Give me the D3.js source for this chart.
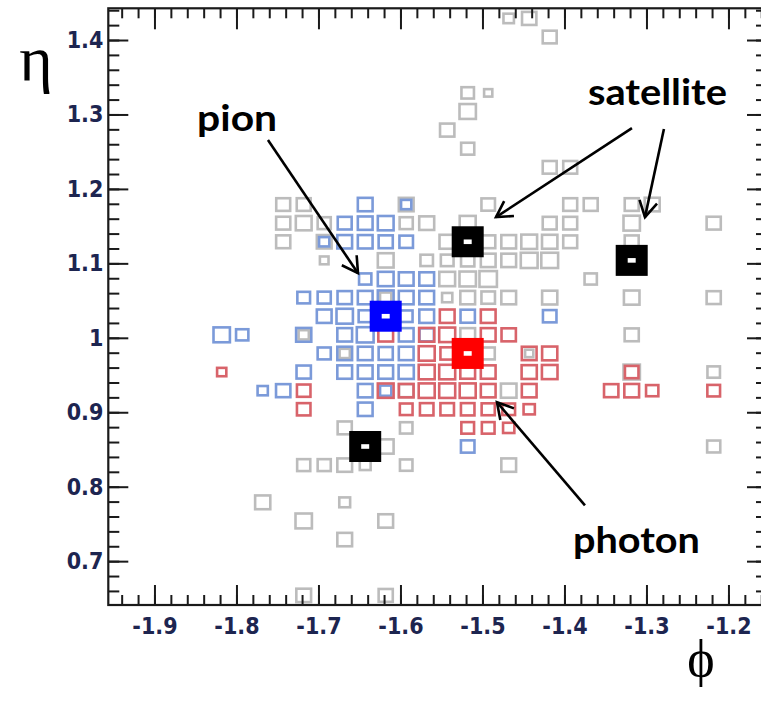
<!DOCTYPE html>
<html>
<head>
<meta charset="utf-8">
<script src="https://cdn.jsdelivr.net/npm/d3@7"></script>
<style>
  html, body { margin: 0; padding: 0; background: #fff; }
  svg { display: block; }
</style>
</head>
<body>
<svg id="chart" width="761" height="701"></svg>
<script>
// Calorimeter cells in (phi, eta): [phi, eta, relative box size]
const binPhi = 0.025;
const binEta = 0.025;

const grayCells = [
  [-1.468,1.429,.51],[-1.443,1.429,.70],[-1.418,1.404,.68],
  [-1.518,1.329,.61],[-1.493,1.329,.40],[-1.518,1.304,.80],
  [-1.543,1.279,.70],[-1.518,1.254,.64],[-1.418,1.229,.68],[-1.393,1.229,.68],
  [-1.743,1.179,.68],[-1.718,1.179,.68],[-1.593,1.179,.72],[-1.493,1.179,.66],
  [-1.393,1.179,.68],[-1.368,1.179,.68],[-1.318,1.179,.68],[-1.293,1.179,.73],
  [-1.743,1.154,.69],[-1.718,1.154,.77],[-1.693,1.154,.64],[-1.593,1.154,.64],
  [-1.568,1.154,.73],[-1.518,1.154,.78],[-1.418,1.154,.68],[-1.393,1.154,.68],
  [-1.318,1.154,.80],[-1.218,1.154,.69],
  [-1.743,1.129,.69],[-1.693,1.129,.72],[-1.543,1.129,.75],[-1.493,1.129,.69],
  [-1.468,1.129,.72],[-1.443,1.129,.77],[-1.418,1.129,.75],[-1.393,1.129,.68],
  [-1.318,1.129,.68],
  [-1.693,1.104,.42],[-1.618,1.104,.77],[-1.568,1.104,.61],[-1.543,1.104,.62],
  [-1.518,1.104,.65],[-1.493,1.104,.72],[-1.468,1.104,.72],[-1.443,1.104,.82],
  [-1.418,1.104,.82],
  [-1.543,1.079,.77],[-1.518,1.079,.80],[-1.493,1.079,.85],[-1.368,1.079,.60],
  [-1.618,1.054,.55],[-1.543,1.054,.50],[-1.518,1.054,.72],[-1.493,1.054,.66],
  [-1.468,1.054,.72],[-1.418,1.054,.74],[-1.318,1.054,.76],[-1.218,1.054,.69],
  [-1.718,1.004,.50],[-1.518,1.004,.72],[-1.318,1.004,.69],
  [-1.668,0.979,.50],[-1.493,0.979,.64],[-1.443,0.979,.40],
  [-1.318,0.954,.80],[-1.218,0.954,.61],
  [-1.593,0.929,.70],[-1.468,0.929,.76],
  [-1.668,0.879,.69],[-1.593,0.879,.61],
  [-1.618,0.854,.77],[-1.218,0.854,.64],
  [-1.718,0.829,.64],[-1.693,0.829,.64],[-1.668,0.829,.72],[-1.643,0.829,.53],
  [-1.593,0.829,.61],[-1.468,0.829,.72],
  [-1.768,0.779,.74],[-1.668,0.779,.53],
  [-1.718,0.754,.80],[-1.618,0.754,.72],
  [-1.668,0.729,.72],
  [-1.718,0.654,.72],[-1.618,0.654,.69]
];

const pionCells = [
  [-1.643,1.179,.72],[-1.593,1.179,.50],
  [-1.668,1.154,.68],[-1.643,1.154,.72],[-1.618,1.154,.77],
  [-1.693,1.129,.50],[-1.668,1.129,.72],[-1.643,1.129,.72],[-1.618,1.129,.69],[-1.593,1.129,.66],
  [-1.643,1.079,.60],[-1.618,1.079,.77],[-1.593,1.079,.72],[-1.568,1.079,.72],
  [-1.718,1.054,.62],[-1.693,1.054,.64],[-1.668,1.054,.70],[-1.643,1.054,.72],
  [-1.618,1.054,.77],[-1.593,1.054,.72],[-1.568,1.054,.72],
  [-1.693,1.029,.72],[-1.668,1.029,.80],[-1.643,1.029,.64],[-1.593,1.029,.62],
  [-1.568,1.029,.72],[-1.518,1.029,.70],[-1.418,1.029,.66],
  [-1.818,1.004,.80],[-1.793,1.004,.60],[-1.718,1.004,.74],[-1.668,1.004,.72],
  [-1.643,1.004,.82],[-1.593,1.004,.72],[-1.568,1.004,.70],
  [-1.693,0.979,.64],[-1.668,0.979,.72],[-1.643,0.979,.72],[-1.618,0.979,.69],[-1.593,0.979,.72],
  [-1.718,0.954,.70],[-1.668,0.954,.72],[-1.643,0.954,.72],[-1.618,0.954,.72],[-1.593,0.954,.74],
  [-1.768,0.929,.50],[-1.743,0.929,.70],[-1.643,0.929,.72],[-1.618,0.929,.55],
  [-1.643,0.904,.72],
  [-1.518,0.854,.66]
];

const photonCells = [
  [-1.543,1.029,.72],[-1.493,1.029,.72],
  [-1.618,1.004,.72],[-1.568,1.004,.74],[-1.543,1.004,.78],[-1.493,1.004,.72],[-1.468,1.004,.70],
  [-1.568,0.979,.78],[-1.543,0.979,.66],[-1.443,0.979,.72],[-1.418,0.979,.74],
  [-1.818,0.954,.45],[-1.568,0.954,.78],[-1.543,0.954,.78],[-1.518,0.954,.72],
  [-1.493,0.954,.72],[-1.443,0.954,.74],[-1.418,0.954,.76],[-1.318,0.954,.66],
  [-1.718,0.929,.66],[-1.618,0.929,.77],[-1.593,0.929,.72],[-1.568,0.929,.78],
  [-1.543,0.929,.78],[-1.518,0.929,.78],[-1.493,0.929,.72],[-1.443,0.929,.72],
  [-1.343,0.929,.70],[-1.318,0.929,.72],[-1.293,0.929,.60],[-1.218,0.929,.62],
  [-1.718,0.904,.66],[-1.593,0.904,.62],[-1.568,0.904,.66],[-1.543,0.904,.66],
  [-1.518,0.904,.66],[-1.493,0.904,.64],[-1.468,0.904,.62],[-1.443,0.904,.55],
  [-1.518,0.879,.62],[-1.493,0.879,.62],[-1.468,0.879,.55]
];

// Seed crystals: [phi, eta, kind]
const seeds = [
  [-1.618, 1.029, "pion"],
  [-1.518, 0.979, "photon"],
  [-1.518, 1.129, "satellite"],
  [-1.318, 1.104, "satellite"],
  [-1.643, 0.854, "satellite"]
];

const xMajorTicks = [-1.9, -1.8, -1.7, -1.6, -1.5, -1.4, -1.3, -1.2];
const yMajorTicks = [0.7, 0.8, 0.9, 1.0, 1.1, 1.2, 1.3, 1.4];
const xTickLabels = ["-1.9", "-1.8", "-1.7", "-1.6", "-1.5", "-1.4", "-1.3", "-1.2"];
const yTickLabels = ["0.7", "0.8", "0.9", "1", "1.1", "1.2", "1.3", "1.4"];

// Annotation arrows [from, to] and captions in (phi, eta)
const arrows = [
  [[-1.7616, 1.2656], [-1.6518, 1.0868]],
  [[-1.3177, 1.2817], [-1.4835, 1.1621]],
  [[-1.2787, 1.2804], [-1.3018, 1.1621]],
  [[-1.3750, 0.7750], [-1.4823, 0.9134]]
];
const captions = [
  ["pion", -1.848, 1.2777, 80],
  ["satellite", -1.3713, 1.3126, 139],
  ["photon", -1.3896, 0.7105, 127]
];

// ---- layout ----
const plot = { left: 108.3, top: 8.3, right: 767, bottom: 605 };
const x = d3.scaleLinear().domain([-1.9563, -1.1530]).range([plot.left, plot.right]);
const y = d3.scaleLinear().domain([0.6411, 1.4426]).range([plot.bottom, plot.top]);

const svg = d3.select("#chart");

svg.append("defs").append("clipPath").attr("id", "plotClip")
  .append("rect")
  .attr("x", plot.left).attr("y", plot.top)
  .attr("width", plot.right - plot.left).attr("height", plot.bottom - plot.top);

const cellLayer = svg.append("g").attr("clip-path", "url(#plotClip)");

function drawCells(cells, color) {
  cellLayer.append("g")
    .selectAll("rect")
    .data(cells)
    .join("rect")
    .attr("x", d => {
      const cw = x(d[0] + binPhi) - x(d[0]);
      return x(d[0]) - d[2] * cw / 2;
    })
    .attr("y", d => {
      const ch = y(d[1]) - y(d[1] + binEta);
      return y(d[1]) - d[2] * ch / 2;
    })
    .attr("width", d => d[2] * (x(d[0] + binPhi) - x(d[0])))
    .attr("height", d => d[2] * (y(d[1]) - y(d[1] + binEta)))
    .attr("fill", "none")
    .attr("stroke", color)
    .attr("stroke-width", 2.6);
}

drawCells(grayCells, "#bcbcbc");
drawCells(pionCells, "#7b9ad9");
drawCells(photonCells, "#d8636a");

// Seeds: heavy square with a small open centre
const seedColor = { pion: "#0000ff", photon: "#ff0000", satellite: "#000000" };
const seedG = cellLayer.append("g");
seedG.selectAll("rect.seed")
  .data(seeds)
  .join("rect")
  .attr("class", "seed")
  .attr("x", d => x(d[0]) - 16)
  .attr("y", d => y(d[1]) - 15.5)
  .attr("width", 32)
  .attr("height", 31)
  .attr("fill", d => seedColor[d[2]]);
seedG.selectAll("rect.hole")
  .data(seeds)
  .join("rect")
  .attr("class", "hole")
  .attr("x", d => x(d[0]) - 4)
  .attr("y", d => y(d[1]) - 2.3)
  .attr("width", 8)
  .attr("height", 4.6)
  .attr("fill", "#ffffff");

// ---- axes ----
const labelFont = "'DejaVu Sans Condensed', 'DejaVu Sans', sans-serif";
const axisColor = "#1a1a1a";

function minorTicks(lo, hi, step) {
  const out = [];
  for (let v = lo; v <= hi + 1e-9; v += step) out.push(+v.toFixed(3));
  return out;
}
const xMinor = minorTicks(-1.94, -1.16, 0.02);
const yMinor = minorTicks(0.66, 1.44, 0.02);

function styleAxis(g) {
  g.select(".domain").remove();
  g.selectAll(".tick line").attr("stroke", axisColor).attr("stroke-width", 2);
}

// bottom
svg.append("g").attr("transform", `translate(0,${plot.bottom})`)
  .call(d3.axisBottom(x).tickValues(xMinor).tickSize(-10).tickFormat(""))
  .call(styleAxis);
svg.append("g").attr("transform", `translate(0,${plot.bottom})`)
  .call(d3.axisBottom(x).tickValues(xMajorTicks).tickSize(-20).tickPadding(13)
    .tickFormat((d, i) => xTickLabels[i]))
  .call(styleAxis)
  .call(g => g.selectAll("text")
    .attr("font-family", labelFont).attr("font-weight", "bold")
    .attr("font-size", 23).attr("fill", "#1d2550"));

// top
svg.append("g").attr("transform", `translate(0,${plot.top})`)
  .call(d3.axisTop(x).tickValues(xMinor).tickSize(-10).tickFormat(""))
  .call(styleAxis);
svg.append("g").attr("transform", `translate(0,${plot.top})`)
  .call(d3.axisTop(x).tickValues(xMajorTicks).tickSize(-21).tickFormat(""))
  .call(styleAxis);

// left
svg.append("g").attr("transform", `translate(${plot.left},0)`)
  .call(d3.axisLeft(y).tickValues(yMinor).tickSize(-11).tickFormat(""))
  .call(styleAxis);
svg.append("g").attr("transform", `translate(${plot.left},0)`)
  .call(d3.axisLeft(y).tickValues(yMajorTicks).tickSize(-20).tickPadding(5)
    .tickFormat((d, i) => yTickLabels[i]))
  .call(styleAxis)
  .call(g => g.selectAll("text")
    .attr("font-family", labelFont).attr("font-weight", "bold")
    .attr("font-size", 23).attr("fill", "#1d2550"));

// right
svg.append("g").attr("transform", `translate(${plot.right},0)`)
  .call(d3.axisRight(y).tickValues(yMinor).tickSize(-11).tickFormat(""))
  .call(styleAxis);
svg.append("g").attr("transform", `translate(${plot.right},0)`)
  .call(d3.axisRight(y).tickValues(yMajorTicks).tickSize(-20).tickFormat(""))
  .call(styleAxis);

// frame
svg.append("rect")
  .attr("x", plot.left).attr("y", plot.top)
  .attr("width", plot.right - plot.left).attr("height", plot.bottom - plot.top)
  .attr("fill", "none").attr("stroke", axisColor).attr("stroke-width", 2.2);

// ---- axis titles ----
svg.append("text")
  .attr("x", 36).attr("y", 80)
  .attr("text-anchor", "middle")
  .attr("font-family", "'Liberation Serif', 'DejaVu Serif', serif")
  .attr("font-size", 64)
  .attr("fill", "#000")
  .text("η");
svg.append("text")
  .attr("x", 701).attr("y", 676)
  .attr("text-anchor", "middle")
  .attr("font-family", "'Liberation Serif', 'DejaVu Serif', serif")
  .attr("font-size", 52)
  .attr("fill", "#000")
  .text("ϕ");

// ---- annotations ----
const ann = svg.append("g");
arrows.forEach(([from, to]) => {
  const x0 = x(from[0]), y0 = y(from[1]);
  const x1 = x(to[0]), y1 = y(to[1]);
  ann.append("line")
    .attr("x1", x0).attr("y1", y0).attr("x2", x1).attr("y2", y1)
    .attr("stroke", "#000").attr("stroke-width", 2.6);
  const ang = Math.atan2(y0 - y1, x0 - x1);
  const len = 18, spread = 0.52;
  const pts = [
    [x1 + len * Math.cos(ang + spread), y1 + len * Math.sin(ang + spread)],
    [x1, y1],
    [x1 + len * Math.cos(ang - spread), y1 + len * Math.sin(ang - spread)]
  ];
  ann.append("path")
    .attr("d", d3.line()(pts))
    .attr("fill", "none").attr("stroke", "#000")
    .attr("stroke-width", 2.6).attr("stroke-linejoin", "miter");
});

ann.selectAll("text.caption")
  .data(captions)
  .join("text")
  .attr("class", "caption")
  .attr("x", d => x(d[1]))
  .attr("y", d => y(d[2]))
  .attr("textLength", d => d[3])
  .attr("lengthAdjust", "spacingAndGlyphs")
  .attr("font-family", "Lato, 'Open Sans', sans-serif")
  .attr("font-weight", "bold")
  .attr("font-size", 37)
  .attr("fill", "#000")
  .text(d => d[0]);
</script>
</body>
</html>
